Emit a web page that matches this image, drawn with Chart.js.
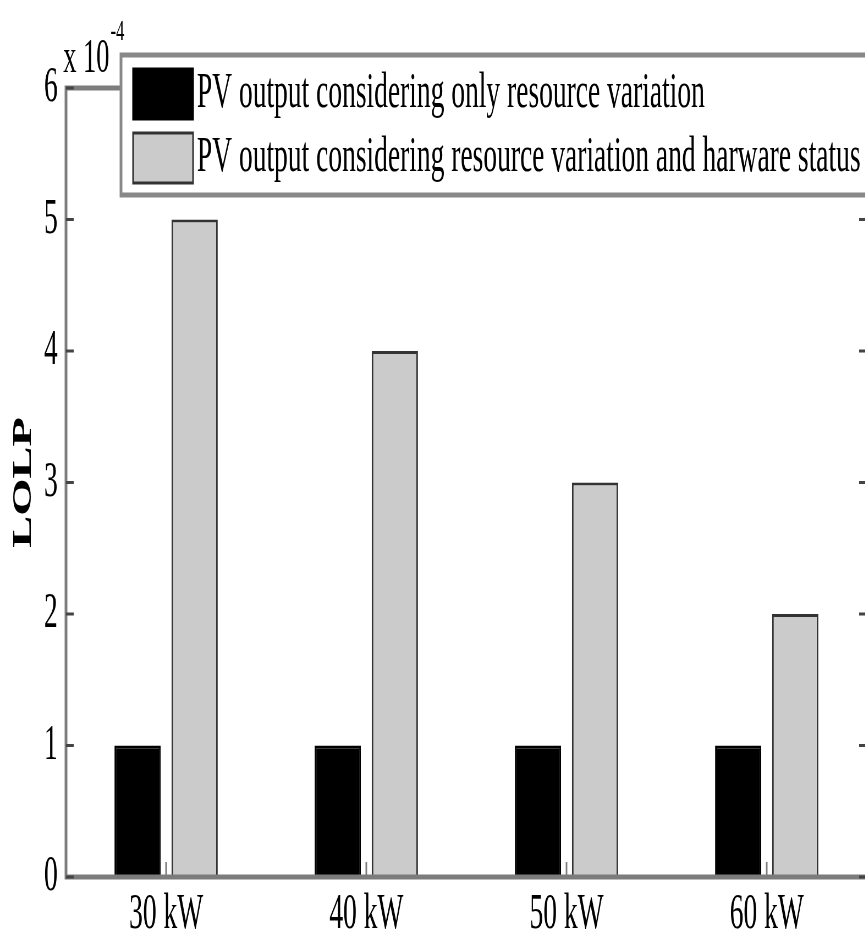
<!DOCTYPE html>
<html>
<head>
<meta charset="utf-8">
<script src="https://cdn.jsdelivr.net/npm/chart.js@4"></script>
<style>
  html, body { margin: 0; padding: 0; background: #fff; overflow: hidden; }
</style>
</head>
<body>
<!-- the original figure is squeezed sideways, so the canvas is drawn wide and shown narrow -->
<canvas id="chart" width="1600" height="931" style="display:block;width:880px;height:931px"></canvas>
<script>
// values in units of 10^-4 (as on the axis)
const categories = ["30 kW", "40 kW", "50 kW", "60 kW"];
const resourceOnly = [1, 1, 1, 1];
const resourceAndHardware = [5, 4, 3, 2];
const seriesNames = [
    "PV output considering only resource variation",
    "PV output considering resource variation and harware status"
];
const yMin = 0;
const yMax = 6;
const yStep = 1;
const axisExponent = "-4";

const FONT = "'Liberation Serif', 'Times New Roman', serif";
const AXIS_GRAY = "#7c7c7c";

// axis lines with inward ticks, matlab style (right side of the box is off the figure)
const frame = {
    id: "frame",
    afterDatasetsDraw(chart) {
        const { ctx, chartArea: a, scales } = chart;
        ctx.save();
        ctx.strokeStyle = AXIS_GRAY;
        ctx.lineWidth = 5;
        ctx.beginPath();
        ctx.moveTo(chart.width + 10, a.top);
        ctx.lineTo(a.left, a.top);
        ctx.lineTo(a.left, a.bottom);
        ctx.lineTo(chart.width + 10, a.bottom);
        ctx.stroke();

        ctx.strokeStyle = "#444";
        ctx.lineWidth = 3;
        scales.y.ticks.forEach((t) => {
            const y = scales.y.getPixelForValue(t.value);
            ctx.beginPath();
            ctx.moveTo(a.left, y);
            ctx.lineTo(a.left + 14, y);
            ctx.moveTo(a.right, y);
            ctx.lineTo(a.right - 14, y);
            ctx.stroke();
        });
        ctx.strokeStyle = AXIS_GRAY;
        scales.x.ticks.forEach((t, i) => {
            const x = scales.x.getPixelForTick(i);
            ctx.beginPath();
            ctx.moveTo(x, a.bottom);
            ctx.lineTo(x, a.bottom - 15);
            ctx.stroke();
        });
        ctx.restore();
    }
};

// legend box sitting over the top of the plot + the "x 10^-4" multiplier
const boxLegend = {
    id: "boxLegend",
    afterDraw(chart) {
        const { ctx } = chart;
        ctx.save();

        ctx.font = "48px " + FONT;
        ctx.fillStyle = "#000";
        ctx.textBaseline = "alphabetic";
        ctx.textAlign = "left";
        ctx.fillText("x 10", 115, 72);
        const w = ctx.measureText("x 10").width;
        ctx.font = "30px " + FONT;
        ctx.fillText(axisExponent, 115 + w + 2, 40);

        // box runs off the right edge of the figure, so only three sides
        const left = 220, top = 55, bottom = 195, right = chart.width + 50;
        ctx.fillStyle = "#fff";
        ctx.fillRect(left, top, right - left, bottom - top);
        ctx.strokeStyle = "#888";
        ctx.lineWidth = 5;
        ctx.beginPath();
        ctx.moveTo(right, top);
        ctx.lineTo(left, top);
        ctx.lineTo(left, bottom);
        ctx.lineTo(right, bottom);
        ctx.stroke();

        const rows = [94, 158];
        chart.data.datasets.forEach((ds, i) => {
            const y = rows[i];
            ctx.fillStyle = ds.backgroundColor;
            ctx.fillRect(242, y - 25, 109, 50);
            ctx.strokeStyle = ds.borderColor;
            ctx.lineWidth = 3;
            ctx.strokeRect(242, y - 25, 109, 50);
            ctx.fillStyle = "#000";
            ctx.font = "50px " + FONT;
            ctx.textBaseline = "middle";
            ctx.fillText(ds.label, 358, y);
        });

        // keep the strip right of the text clean
        ctx.fillStyle = "#fff";
        ctx.fillRect(1566, top + 4, chart.width - 1566, bottom - top - 8);
        ctx.restore();
    }
};

const ctx = document.getElementById("chart").getContext("2d");
const lolpChart = new Chart(ctx, {
    type: "bar",
    data: {
        labels: categories,
        datasets: [
            {
                label: seriesNames[0],
                data: resourceOnly,
                backgroundColor: "#000000",
                borderColor: "#000000",
                borderWidth: 3,
            },
            {
                label: seriesNames[1],
                data: resourceAndHardware,
                backgroundColor: "#cbcbcb",
                borderColor: "#333333",
                borderWidth: 3,
            },
        ],
    },
    options: {
        responsive: false,
        animation: false,
        devicePixelRatio: 1,
        categoryPercentage: 0.57,
        barPercentage: 0.81,
        layout: {
            padding: { top: 88, right: 24, bottom: 0, left: 0 },
        },
        plugins: {
            legend: { display: false },
            tooltip: { enabled: false },
        },
        scales: {
            x: {
                grid: { display: false, drawTicks: false },
                border: { display: false },
                ticks: {
                    color: "#000",
                    padding: 8,
                    font: { family: FONT, size: 50 },
                    maxRotation: 0,
                },
                afterFit: (scale) => { scale.height = 54; },
            },
            y: {
                min: yMin,
                max: yMax,
                grid: { display: false, drawTicks: false },
                border: { display: false },
                ticks: {
                    stepSize: yStep,
                    color: "#000",
                    padding: 15,
                    font: { family: FONT, size: 50 },
                },
                title: {
                    display: true,
                    text: "LOLP",
                    color: "#000",
                    font: { family: FONT, size: 48, weight: "bold" },
                    padding: { top: 15, bottom: 0 },
                },
                afterFit: (scale) => { scale.width = 120; },
            },
        },
    },
    plugins: [frame, boxLegend],
});
</script>
</body>
</html>
